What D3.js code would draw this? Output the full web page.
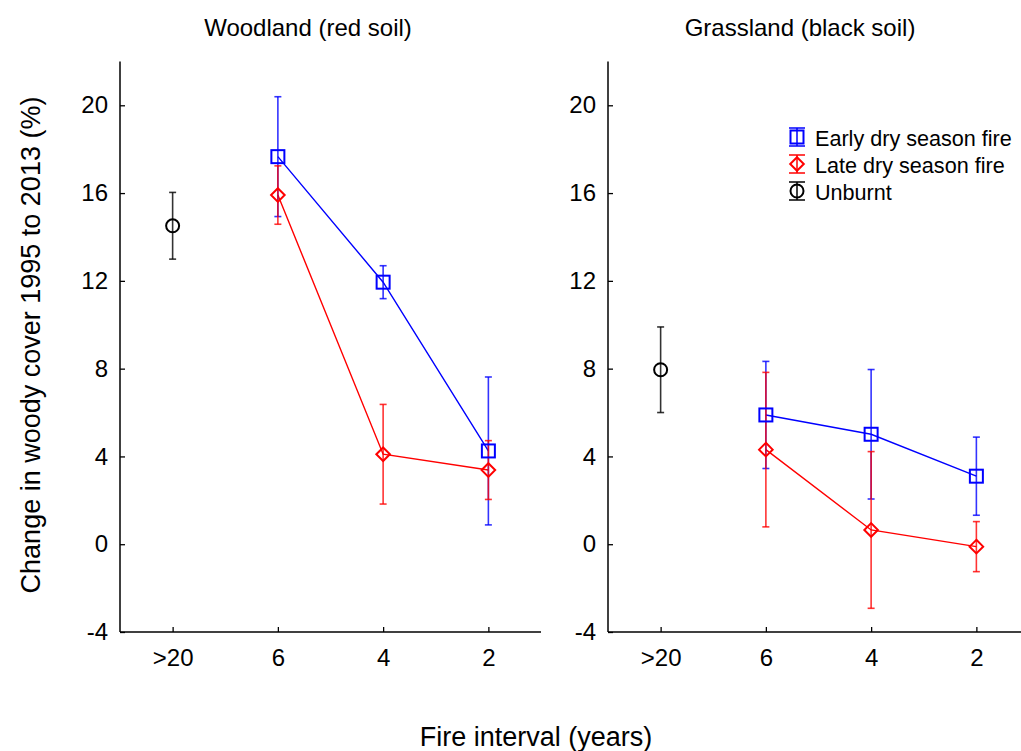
<!DOCTYPE html>
<html>
<head>
<meta charset="utf-8">
<script src="https://cdn.jsdelivr.net/npm/d3@7/dist/d3.min.js"></script>
<style>
  html, body { margin: 0; padding: 0; background: #fff; }
  svg { display: block; font-family: "Liberation Sans", Arial, sans-serif; }
</style>
</head>
<body>
<svg id="chart" width="1021" height="751"></svg>
<script>
// ---- data ----
const categories = [">20", "6", "4", "2"];
const panelTitles = ["Woodland (red soil)", "Grassland (black soil)"];
const yTicks = [-4, 0, 4, 8, 12, 16, 20];

// Woodland (red soil)
const woodUnburnt = [14.51];
const woodUnburntErr = [1.52];
const woodEarly = [17.66, 11.94, 4.25];
const woodEarlyErr = [2.73, 0.75, 3.37];
const woodLate = [15.91, 4.10, 3.38];
const woodLateErr = [1.33, 2.27, 1.34];

// Grassland (black soil)
const grassUnburnt = [7.95];
const grassUnburntErr = [1.95];
const grassEarly = [5.89, 5.01, 3.10];
const grassEarlyErr = [2.44, 2.95, 1.78];
const grassLate = [4.31, 0.65, -0.11];
const grassLateErr = [3.52, 3.57, 1.14];

const seriesNames = ["Early dry season fire", "Late dry season fire", "Unburnt"];
const seriesColors = ["#0000ff", "#ff0000", "#000000"];
const seriesShapes = ["square", "diamond", "circle"];

// ---- layout ----
const svg = d3.select("#chart");
const y = d3.scaleLinear().domain([-4, 22]).range([632, 61.4]);

const panels = [
  { left: 120, right: 541, title: panelTitles[0], titleX: 308,
    unburnt: woodUnburnt, unburntErr: woodUnburntErr,
    early: woodEarly, earlyErr: woodEarlyErr, late: woodLate, lateErr: woodLateErr },
  { left: 608, right: 1029, title: panelTitles[1], titleX: 800,
    unburnt: grassUnburnt, unburntErr: grassUnburntErr,
    early: grassEarly, earlyErr: grassEarlyErr, late: grassLate, lateErr: grassLateErr }
];

function drawMarker(g, shape, cx, cy, color) {
  if (shape === "square") {
    g.append("rect").attr("x", cx - 6.5).attr("y", cy - 6.5).attr("width", 13).attr("height", 13)
      .attr("fill", "none").attr("stroke", color).attr("stroke-width", 2);
  } else if (shape === "diamond") {
    const s = 6.8;
    g.append("path").attr("d", `M${cx},${cy - s}L${cx + s},${cy}L${cx},${cy + s}L${cx - s},${cy}Z`)
      .attr("fill", "none").attr("stroke", color).attr("stroke-width", 2);
  } else {
    g.append("circle").attr("cx", cx).attr("cy", cy).attr("r", 6.5)
      .attr("fill", "none").attr("stroke", color).attr("stroke-width", 2);
  }
}

function drawErr(g, cx, v, e, color, cap) {
  const y1 = y(v + e), y2 = y(v - e);
  g.append("line").attr("x1", cx).attr("x2", cx).attr("y1", y1).attr("y2", y2)
    .attr("stroke", color).attr("stroke-width", 1.6).attr("stroke-opacity", 0.8);
  [y1, y2].forEach(yy => g.append("line").attr("x1", cx - cap).attr("x2", cx + cap)
    .attr("y1", yy).attr("y2", yy).attr("stroke", color).attr("stroke-width", 1.6).attr("stroke-opacity", 0.8));
}

panels.forEach(p => {
  const x = d3.scalePoint().domain(categories).range([p.left, p.right]).padding(0.5);
  const g = svg.append("g");

  // axes
  const ya = d3.axisLeft(y).tickValues(yTicks).tickFormat(d => String(d))
    .tickSizeInner(-5).tickSizeOuter(0).tickPadding(12);
  const yg = g.append("g").attr("transform", `translate(${p.left},0)`).call(ya);
  const xa = d3.axisBottom(x).tickSizeInner(-5).tickSizeOuter(0).tickPadding(17);
  const xg = g.append("g").attr("transform", `translate(0,${y(-4)})`).call(xa);
  [yg, xg].forEach(a => {
    a.select(".domain").attr("stroke", "#000").attr("stroke-width", 1.5);
    a.selectAll(".tick line").attr("stroke", "#000").attr("stroke-width", 1.3);
    a.selectAll(".tick text").attr("fill", "#000").style("font-size", "24px")
      .style("font-family", '"Liberation Sans", Arial, sans-serif');
  });
  yg.select(".domain").attr("d", `M0,${y(22)}V${y(-4)}`);
  xg.select(".domain").attr("d", `M${p.left},0H${p.right}`);

  // title
  g.append("text").attr("x", p.titleX).attr("y", 36).attr("text-anchor", "middle")
    .style("font-size", "24px").attr("fill", "#000").text(p.title);

  const fireCats = categories.slice(1);
  const line = d3.line().x(d => x(d[0])).y(d => y(d[1]));

  // connecting lines
  g.append("path").datum(fireCats.map((c, i) => [c, p.early[i]])).attr("d", line)
    .attr("fill", "none").attr("stroke", seriesColors[0]).attr("stroke-width", 1.4);
  g.append("path").datum(fireCats.map((c, i) => [c, p.late[i]])).attr("d", line)
    .attr("fill", "none").attr("stroke", seriesColors[1]).attr("stroke-width", 1.4);

  // error bars
  fireCats.forEach((c, i) => drawErr(g, x(c), p.early[i], p.earlyErr[i], seriesColors[0], 3.5));
  fireCats.forEach((c, i) => drawErr(g, x(c), p.late[i], p.lateErr[i], seriesColors[1], 3.5));
  drawErr(g, x(categories[0]), p.unburnt[0], p.unburntErr[0], seriesColors[2], 3.5);

  // markers
  fireCats.forEach((c, i) => drawMarker(g, seriesShapes[0], x(c), y(p.early[i]), seriesColors[0]));
  fireCats.forEach((c, i) => drawMarker(g, seriesShapes[1], x(c), y(p.late[i]), seriesColors[1]));
  drawMarker(g, seriesShapes[2], x(categories[0]), y(p.unburnt[0]), seriesColors[2]);
});

// legend
const lg = svg.append("g");
const legY = [137, 164, 191];
seriesNames.forEach((name, i) => {
  const cx = 797, cy = legY[i];
  lg.append("line").attr("x1", cx).attr("x2", cx).attr("y1", cy - 9).attr("y2", cy + 9)
    .attr("stroke", seriesColors[i]).attr("stroke-width", 1.5);
  [cy - 9, cy + 9].forEach(yy => lg.append("line").attr("x1", cx - 8).attr("x2", cx + 8)
    .attr("y1", yy).attr("y2", yy).attr("stroke", seriesColors[i]).attr("stroke-width", 1.5));
  drawMarker(lg, seriesShapes[i], cx, cy, seriesColors[i]);
  lg.append("text").attr("x", 815).attr("y", cy + 9).style("font-size", "21.6px")
    .attr("fill", "#000").text(name);
});

// axis labels
svg.append("text").attr("transform", "translate(40,345) rotate(-90)").attr("text-anchor", "middle")
  .style("font-size", "27px").attr("fill", "#000").text("Change in woody cover 1995 to 2013 (%)");
svg.append("text").attr("x", 536).attr("y", 746).attr("text-anchor", "middle")
  .style("font-size", "27px").attr("fill", "#000").text("Fire interval (years)");
</script>
</body>
</html>
